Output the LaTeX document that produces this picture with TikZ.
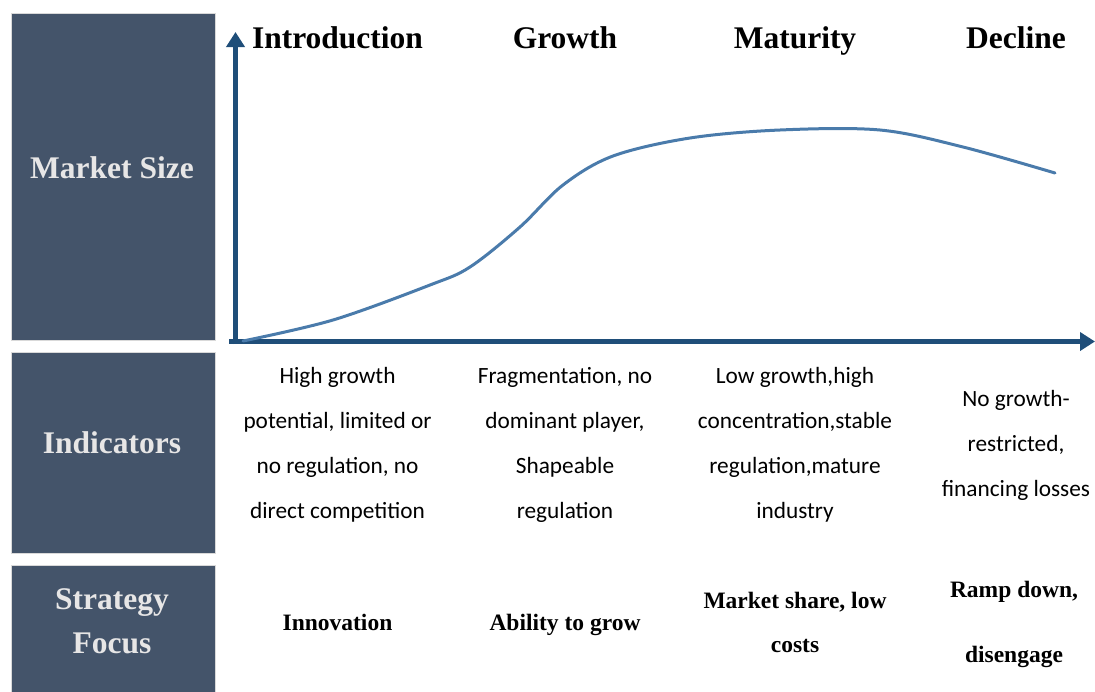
\documentclass[tikz,border=0pt]{standalone}
\usepackage{fontspec}
\setmainfont{Liberation Serif}
\newfontfamily\bodyfont{Carlito}
\usetikzlibrary{arrows.meta}
\definecolor{panelblue}{HTML}{44546A}
\definecolor{paneltext}{HTML}{E7E6E6}
\definecolor{axisblue}{HTML}{1F4E79}
\definecolor{curveblue}{HTML}{4A7BAB}
\tikzset{
  panel/.style={fill=panelblue, draw=gray!30, line width=0.8pt},
  rowtitle/.style={text=paneltext, anchor=base, align=center, font=\fontsize{31.5}{44}\selectfont\bfseries},
  stage/.style={anchor=base, font=\fontsize{31.5}{36}\selectfont\bfseries},
  indicator/.style={anchor=base, align=center, font=\bodyfont\fontsize{23.3}{45}\selectfont},
  focus/.style={anchor=base, align=center, font=\fontsize{23.5}{44}\selectfont\bfseries},
  axis/.style={draw=axisblue, line width=5pt, -{Triangle[length=15pt,width=18pt]}},
  lifecycle/.style={draw=curveblue, line width=3pt, line cap=round}
}
\begin{document}
\begin{tikzpicture}[x=1pt, y=-1pt]
            \useasboundingbox (0,0) rectangle (1095,691);
            \draw[panel] (11,13) rectangle (215,340);
            \draw[panel] (11,352) rectangle (215,553);
            \draw[panel] (11,565) rectangle (215,692);
            \node[rowtitle] (sizelabel) at (112,178) {Market Size};
            \node[rowtitle] (indlabel) at (112,453) {Indicators};
            \node[rowtitle] (focuslabel) at (112,653) {Strategy\\Focus};

            \coordinate (xstart) at (229,341.5);
            \coordinate (xend) at (1095,341.5);
            \coordinate (ystart) at (235.5,344);
            \coordinate (yend) at (235.5,32);
            \draw[axis] (xstart) -- (xend);
            \draw[axis] (ystart) -- (yend);

            \draw[lifecycle] plot[smooth, tension=0.55] coordinates {(243,341) (333,320) (430,285) (470,267)
              (520,227) (563,185) (613,156) (690,138) (780,130) (880,130) (963,147) (1055,173)};

            \node[stage] (intro) at (337.5,48) {Introduction};
            \node[stage] (growth) at (565,48) {Growth};
            \node[stage] (maturity) at (795,48) {Maturity};
            \node[stage] (decline) at (1016,48) {Decline};

            \node[indicator] (introind) at (337.5,518) {High growth\\potential, limited or\\no regulation, no\\direct competition};
            \node[indicator] (growthind) at (565,518) {Fragmentation, no\\dominant player,\\Shapeable\\regulation};
            \node[indicator] (maturityind) at (795,518) {Low growth,high\\concentration,stable\\regulation,mature\\industry};
            \node[indicator] (declineind) at (1016,496) {No growth-\\restricted,\\financing losses};

            \node[focus] (introfocus) at (337.5,630) {Innovation};
            \node[focus] (growthfocus) at (565,630) {Ability to grow};
            \node[focus] (maturityfocus) at (795,652) {Market share, low\\costs};
            \node[focus, font=\fontsize{23.5}{65}\selectfont\bfseries] (declinefocus) at (1014,662) {Ramp down,\\disengage};
        \end{tikzpicture}
\end{document}
